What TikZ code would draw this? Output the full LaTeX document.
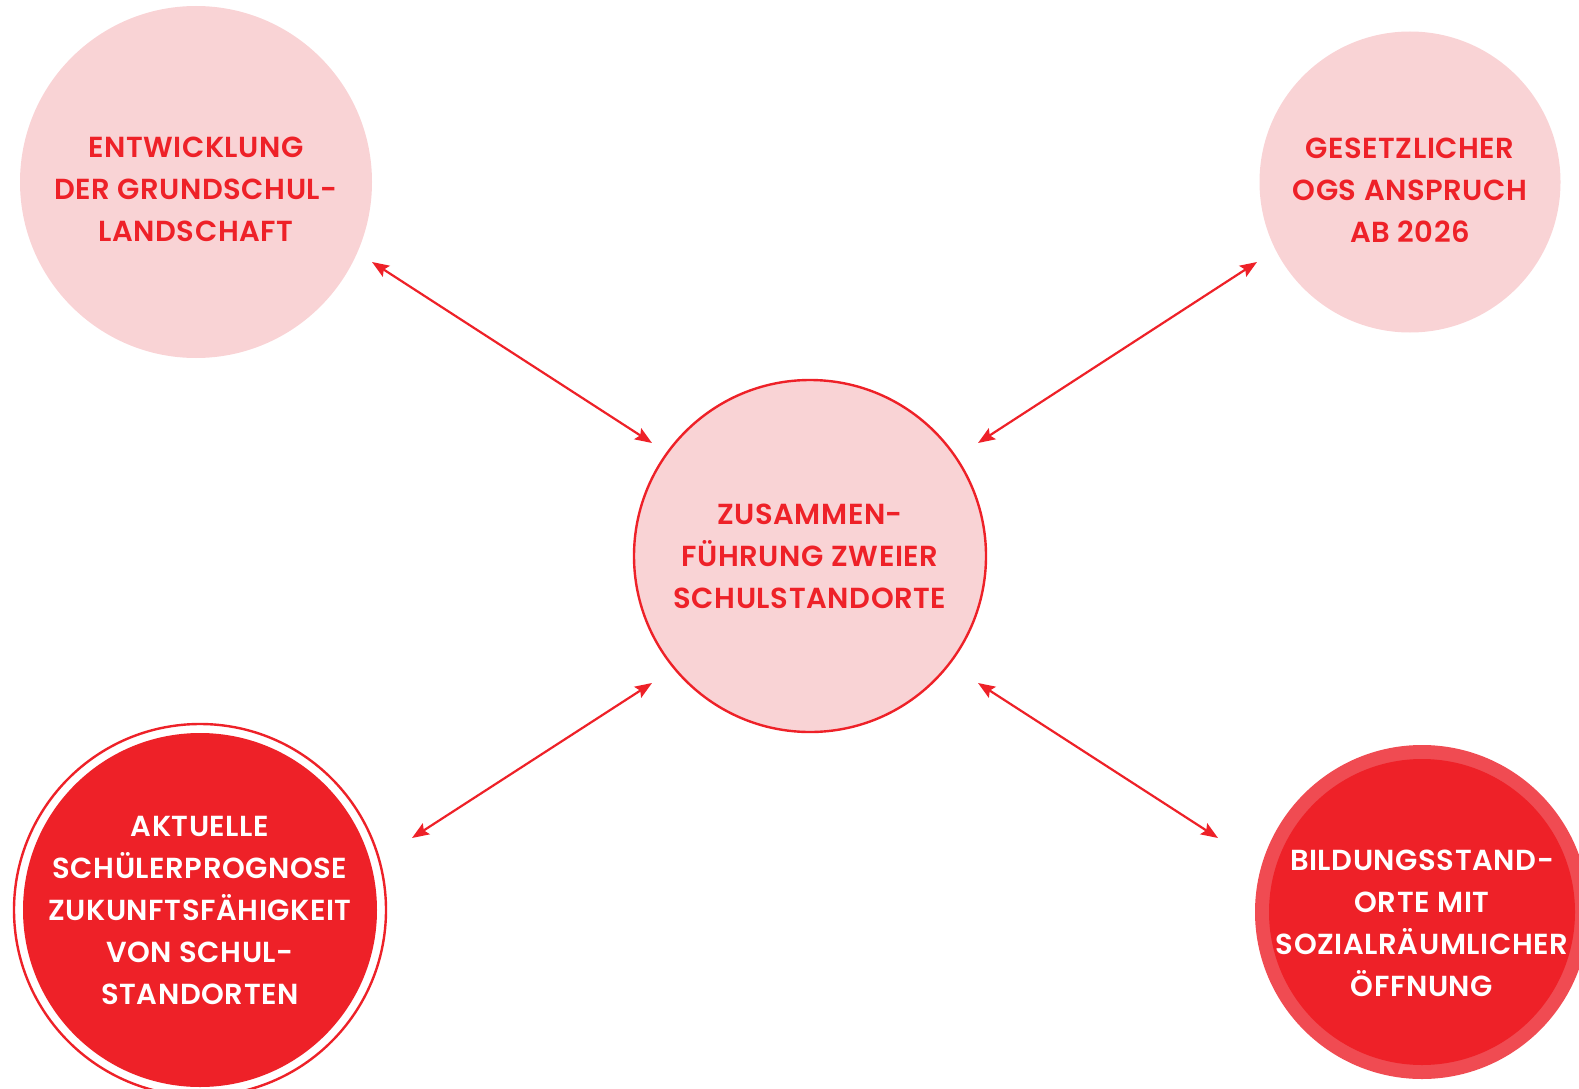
\documentclass[tikz,border=0pt]{standalone}
\usepackage{fontspec}
\setmainfont{Poppins}[UprightFont={* SemiBold}, LetterSpace=2]
\usetikzlibrary{arrows.meta}
\definecolor{brand}{HTML}{EE2128}
\definecolor{blush}{HTML}{F9D3D5}
\definecolor{glow}{HTML}{F04B52}
\tikzset{
  disc/.style={circle, inner sep=0pt},
  soft/.style={disc, fill=blush},
  hard/.style={disc, fill=brand},
  halo/.style={disc, fill=glow},
  ring/.style={disc, draw=brand, fill=white, line width=2.4pt},
  lbl/.style={align=center, font=\fontsize{29}{42}\selectfont},
  link/.style={draw=brand, line width=2.2pt,
    {Stealth[length=17pt,width=13pt,inset=3pt]}-{Stealth[length=17pt,width=13pt,inset=3pt]}},
}
\begin{document}
\begin{tikzpicture}[x=1pt, y=-1pt]
  \useasboundingbox (0,0) rectangle (1579,1089);

  \node[soft, minimum size=352pt] (entw) at (196,182) {};
  \node[soft, minimum size=301pt] (ogs) at (1410,182) {};
  \node[soft, draw=brand, line width=2.4pt, minimum size=352pt] (zus) at (810,556) {};
  \node[ring, minimum size=372pt] (progring) at (200,910) {}; % thin outer ring
  \node[hard, minimum size=354pt] (prog) at (200,910) {};
  \node[halo, minimum size=334pt] (bildhalo) at (1422,912) {};
  \node[hard, minimum size=306pt] (bild) at (1422,912) {};

  \node[lbl, text=brand] (entw-t) at ([yshift=-7pt]entw.center) {ENTWICKLUNG\\DER GRUNDSCHUL-\\LANDSCHAFT};
  \node[lbl, text=brand] (ogs-t) at ([yshift=-8pt]ogs.center) {GESETZLICHER\\OGS ANSPRUCH\\AB 2026};
  \node[lbl, text=brand] (zus-t) at (zus.center) {ZUSAMMEN-\\FÜHRUNG ZWEIER\\SCHULSTANDORTE};
  \node[lbl, text=white] (prog-t) at (prog.center) {AKTUELLE\\SCHÜLERPROGNOSE\\ZUKUNFTSFÄHIGKEIT\\VON SCHUL-\\STANDORTEN};
  \node[lbl, text=white] (bild-t) at ([yshift=-11pt]bild.center) {BILDUNGSSTAND-\\ORTE MIT\\SOZIALRÄUMLICHER\\ÖFFNUNG};

  % arrow ends
  \coordinate (ul-a) at (372,262);  \coordinate (ul-b) at (652,443);
  \coordinate (ur-a) at (1257,262); \coordinate (ur-b) at (978,443);
  \coordinate (ll-a) at (412,838);  \coordinate (ll-b) at (652,683);
  \coordinate (lr-a) at (1218,838); \coordinate (lr-b) at (978,683);

  \draw[link] (ul-a) -- (ul-b);
  \draw[link] (ur-a) -- (ur-b);
  \draw[link] (ll-a) -- (ll-b);
  \draw[link] (lr-a) -- (lr-b);
\end{tikzpicture}
\end{document}
